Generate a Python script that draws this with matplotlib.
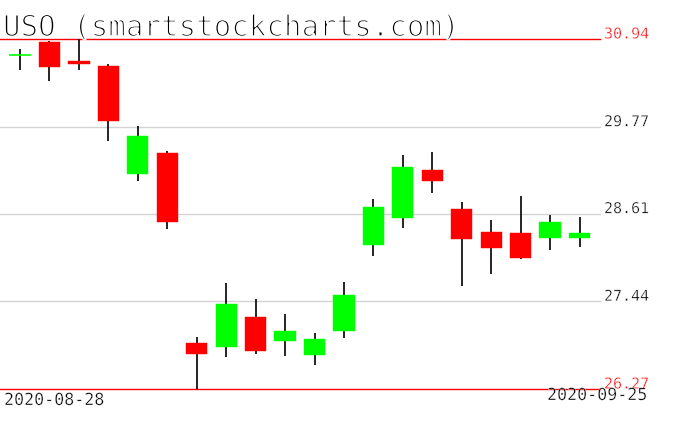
import matplotlib
matplotlib.use("Agg")
import matplotlib.pyplot as plt
import matplotlib.patheffects as pe

dates = ["2020-08-28", "2020-08-31", "2020-09-01", "2020-09-02", "2020-09-03",
         "2020-09-04", "2020-09-08", "2020-09-09", "2020-09-10", "2020-09-11",
         "2020-09-14", "2020-09-15", "2020-09-16", "2020-09-17", "2020-09-18",
         "2020-09-21", "2020-09-22", "2020-09-23", "2020-09-24", "2020-09-25"]
opens = [30.73, 30.90, 30.65, 30.58, 29.14, 29.42, 26.88, 26.83, 27.23, 26.91,
         26.72, 27.04, 28.19, 28.55, 29.19, 28.67, 28.37, 28.35, 28.28, 28.28]
highs = [30.81, 30.91, 30.94, 30.61, 29.78, 29.45, 26.97, 27.68, 27.47, 27.27,
         27.02, 27.70, 28.81, 29.39, 29.43, 28.77, 28.53, 28.85, 28.59, 28.57]
lows = [30.52, 30.38, 30.53, 29.58, 29.04, 28.40, 26.27, 26.70, 26.74, 26.71,
        26.59, 26.95, 28.05, 28.42, 28.89, 27.65, 27.81, 28.00, 28.12, 28.17]
closes = [30.73, 30.57, 30.60, 29.85, 29.65, 28.50, 26.74, 27.40, 26.78, 27.04,
          26.94, 27.52, 28.70, 29.23, 29.05, 28.27, 28.15, 28.02, 28.50, 28.35]
tick_values = [30.94, 29.77, 28.61, 27.44, 26.27]
tick_labels = ["30.94", "29.77", "28.61", "27.44", "26.27"]
title = "USO (smartstockcharts.com)"

W, H = 676, 431
fig = plt.figure(figsize=(W / 100, H / 100), dpi=100)
fig.patch.set_facecolor("white")

y_top_px, y_bot_px, x_right_px = 40, 390, 600
ax = fig.add_axes([0, (H - y_bot_px) / H, x_right_px / W, (y_bot_px - y_top_px) / H])
ax.set_axis_off()

spacing = 29.45
first_px = 20
ax.set_xlim(-first_px / spacing, (x_right_px - first_px) / spacing)
ymin, ymax = min(tick_values), max(tick_values)
ax.set_ylim(ymin, ymax)

for v in tick_values:
    col = "#ff0000" if v in (ymin, ymax) else "#d3d3d3"
    ax.axhline(v, color=col, lw=1.0, zorder=1, clip_on=False)

body_w = 0.72
for i, (o, h, l, c) in enumerate(zip(opens, highs, lows, closes)):
    col = "#00ff00" if c >= o else "#ff0000"
    ax.vlines(i, l, h, color="black", lw=1.2, zorder=2, clip_on=False)
    if abs(c - o) < 0.005:
        ax.hlines(o, i - body_w / 2, i + body_w / 2, color=col, lw=1.2, zorder=3)
    else:
        ax.bar(i, abs(c - o), bottom=min(o, c), width=body_w, color=col,
               edgecolor=col, lw=0.3, zorder=3)

mono = "DejaVu Sans Mono"
thin_small = [pe.Stroke(linewidth=0.3, foreground="white")]
thin_big = [pe.Stroke(linewidth=1.1, foreground="white")]

for v, lab in zip(tick_values, tick_labels):
    ypx = y_top_px + (ymax - v) / (ymax - ymin) * (y_bot_px - y_top_px)
    col = "#ff0000" if v in (ymin, ymax) else "black"
    fig.text(604 / W, 1 - (ypx - 0.5) / H, lab, color=col, family=mono,
             fontsize=10.8, ha="left", va="baseline", path_effects=thin_small)

fig.text(3 / W, 1 - 37 / H, title, family=mono, fontsize=21, ha="left",
         va="baseline", color="black", path_effects=thin_big)
fig.text(4 / W, 1 - 406 / H, dates[0], family=mono, fontsize=12, ha="left",
         va="baseline", color="black", path_effects=thin_small)
fig.text(647 / W, 1 - 401 / H, dates[-1], family=mono, fontsize=12, ha="right",
         va="baseline", color="black", path_effects=thin_small)

fig.savefig("out.png", dpi=100, facecolor="white")
